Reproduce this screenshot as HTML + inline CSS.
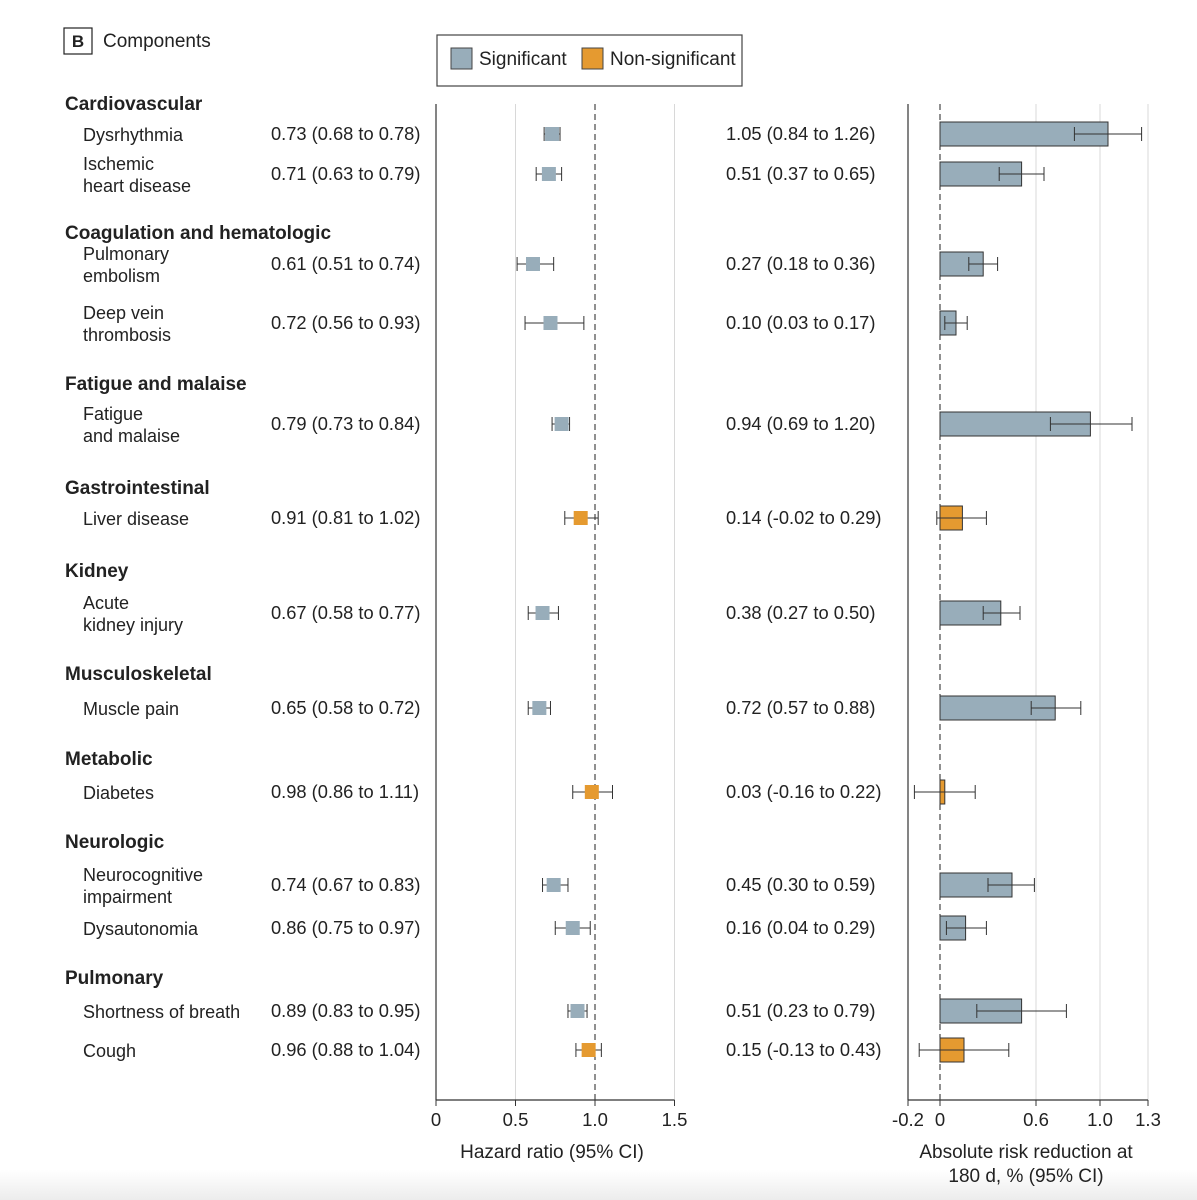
<!DOCTYPE html>
<html><head><meta charset="utf-8"><style>
html,body{margin:0;padding:0;background:#fff;}
svg{display:block;font-family:"Liberation Sans Narrow","Liberation Sans",sans-serif;}
</style></head><body>
<svg id="c" width="1197" height="1200">
<defs><linearGradient id="g" x1="0" y1="0" x2="0" y2="1"><stop offset="0" stop-color="#fff"/><stop offset="1" stop-color="#ececec"/></linearGradient></defs>
<rect x="0" y="1170" width="1197" height="30" fill="url(#g)"/>
<g>
<rect x="64" y="28" width="28" height="26" fill="#fff" stroke="#222" stroke-width="1.2"/>
<text x="78" y="47" font-size="17" font-weight="bold" text-anchor="middle" fill="#222">B</text>
<text x="103" y="47" font-size="19" fill="#222">Components</text>
</g>
<g>
<rect x="437" y="35" width="305" height="51" fill="#fff" stroke="#444" stroke-width="1.2"/>
<rect x="451" y="48" width="21" height="21" fill="#98adba" stroke="#444"/>
<text x="479" y="65" font-size="19" fill="#222">Significant</text>
<rect x="582" y="48" width="21" height="21" fill="#e59a30" stroke="#444"/>
<text x="610" y="65" font-size="19" fill="#222">Non-significant</text>
</g>
<g id="plot"></g>
</svg>
<script>
const headers=["Cardiovascular","Coagulation and hematologic","Fatigue and malaise","Gastrointestinal","Kidney","Musculoskeletal","Metabolic","Neurologic","Pulmonary"];
const labels=[["Dysrhythmia"],["Ischemic","heart disease"],["Pulmonary","embolism"],["Deep vein","thrombosis"],["Fatigue","and malaise"],["Liver disease"],["Acute","kidney injury"],["Muscle pain"],["Diabetes"],["Neurocognitive","impairment"],["Dysautonomia"],["Shortness of breath"],["Cough"]];
const hr=[0.73,0.71,0.61,0.72,0.79,0.91,0.67,0.65,0.98,0.74,0.86,0.89,0.96];
const hrLo=[0.68,0.63,0.51,0.56,0.73,0.81,0.58,0.58,0.86,0.67,0.75,0.83,0.88];
const hrHi=[0.78,0.79,0.74,0.93,0.84,1.02,0.77,0.72,1.11,0.83,0.97,0.95,1.04];
const arr=[1.05,0.51,0.27,0.10,0.94,0.14,0.38,0.72,0.03,0.45,0.16,0.51,0.15];
const arrLo=[0.84,0.37,0.18,0.03,0.69,-0.02,0.27,0.57,-0.16,0.30,0.04,0.23,-0.13];
const arrHi=[1.26,0.65,0.36,0.17,1.20,0.29,0.50,0.88,0.22,0.59,0.29,0.79,0.43];
const significant=[1,1,1,1,1,0,1,1,0,1,1,1,0];
const hrTicks=[0,0.5,1.0,1.5];
const hrTickLabels=["0","0.5","1.0","1.5"];
const arrTicks=[-0.2,0,0.6,1.0,1.3];
const arrTickLabels=["-0.2","0","0.6","1.0","1.3"];

const rowY=[134,174,264,323,424,518,613,708,792,885,928,1011,1050];
const headerY=[103,232,383,487,570,673,758,841,977];
const xHR=v=>436+v*159;
const xAR=v=>940+v*160;
const TOP=104,BOT=1100;
const NS="http://www.w3.org/2000/svg";
const P=document.getElementById('plot');
function mk(t,a,parent){const e=document.createElementNS(NS,t);for(const k in a)e.setAttribute(k,a[k]);(parent||P).appendChild(e);return e;}
function fmt(v){return v.toFixed(2);}
const SIG="#98adba",NSIG="#e59a30";

hrTicks.forEach((t,i)=>{
 const x=xHR(t);
 let l;
 if(t===0) l=mk('line',{x1:x,x2:x,y1:TOP,y2:BOT,stroke:'#333','stroke-width':1.2});
 else if(t===1) l=mk('line',{x1:x,x2:x,y1:TOP,y2:BOT,stroke:'#222','stroke-dasharray':'6,4','stroke-width':1});
 else l=mk('line',{x1:x,x2:x,y1:TOP,y2:BOT,stroke:'#d8d8d8','stroke-width':1});
 
 
 const tk=mk('line',{x1:x,x2:x,y1:BOT,y2:BOT+6,stroke:'#333'});
 
 
 const tx=mk('text',{x:x,y:BOT+26,'font-size':18.5,'text-anchor':'middle',fill:'#222'});
 tx.textContent=hrTickLabels[i];
 
 
});
const hax=mk('line',{x1:xHR(0),x2:xHR(1.5),y1:BOT,y2:BOT,stroke:'#333','stroke-width':1.2});


arrTicks.forEach((t,i)=>{
 const x=xAR(t);
 let l;
 if(t===-0.2) l=mk('line',{x1:x,x2:x,y1:TOP,y2:BOT,stroke:'#333','stroke-width':1.2});
 else if(t===0) l=mk('line',{x1:x,x2:x,y1:TOP,y2:BOT,stroke:'#222','stroke-dasharray':'6,4','stroke-width':1});
 else l=mk('line',{x1:x,x2:x,y1:TOP,y2:BOT,stroke:'#d8d8d8','stroke-width':1});
 
 
 const tk=mk('line',{x1:x,x2:x,y1:BOT,y2:BOT+6,stroke:'#333'});
 
 
 const tx=mk('text',{x:x,y:BOT+26,'font-size':18.5,'text-anchor':'middle',fill:'#222'});
 tx.textContent=arrTickLabels[i];
 
 
});
const aax=mk('line',{x1:xAR(-0.2),x2:xAR(1.3),y1:BOT,y2:BOT,stroke:'#333','stroke-width':1.2});


const t1=mk('text',{x:552,y:1158,'font-size':19,'text-anchor':'middle',fill:'#222'});
t1.textContent='Hazard ratio (95% CI)';


const t2=mk('text',{x:1026,y:1158,'font-size':19,'text-anchor':'middle',fill:'#222'});
t2.textContent='Absolute risk reduction at';


const t3=mk('text',{x:1026,y:1182,'font-size':19,'text-anchor':'middle',fill:'#222'});
t3.textContent='180 d, % (95% CI)';



headers.forEach((h,i)=>{
 const t=mk('text',{x:65,y:headerY[i]+7,'font-size':19,'font-weight':'bold',fill:'#222'});
 t.textContent=h;
 
 
});

labels.forEach((lab,i)=>{
 const y=rowY[i];
 const lt=mk('text',{x:83,'font-size':18,fill:'#222'});
 
 
 if(lab.length===1){lt.setAttribute('y',y+7);lt.textContent=lab[0];}
 else{lab.forEach((s,j)=>{const ts=mk('tspan',{x:83,y:y-4+j*22},lt);ts.textContent=s;});}
 const ht=mk('text',{x:271,y:y+6,'font-size':18.3,fill:'#222'});
 ht.textContent=fmt(hr[i])+' ('+fmt(hrLo[i])+' to '+fmt(hrHi[i])+')';
 
 
 const at=mk('text',{x:726,y:y+6,'font-size':18.3,fill:'#222'});
 at.textContent=fmt(arr[i])+' ('+fmt(arrLo[i])+' to '+fmt(arrHi[i])+')';
 
 
 const col=significant[i]?SIG:NSIG;
 const g=mk('g',{});
 
 
 mk('line',{x1:xHR(hrLo[i]),x2:xHR(hrHi[i]),y1:y,y2:y,stroke:'#333'},g);
 mk('line',{x1:xHR(hrLo[i]),x2:xHR(hrLo[i]),y1:y-7,y2:y+7,stroke:'#333'},g);
 mk('line',{x1:xHR(hrHi[i]),x2:xHR(hrHi[i]),y1:y-7,y2:y+7,stroke:'#333'},g);
 mk('rect',{x:xHR(hr[i])-7,y:y-7,width:14,height:14,fill:col},g);
 const b=mk('g',{});
 
 
 mk('rect',{x:xAR(0),y:y-12,width:Math.max(0,xAR(arr[i])-xAR(0)),height:24,fill:col,stroke:'#333','stroke-width':1},b);
 mk('line',{x1:xAR(arrLo[i]),x2:xAR(arrHi[i]),y1:y,y2:y,stroke:'#333'},b);
 mk('line',{x1:xAR(arrLo[i]),x2:xAR(arrLo[i]),y1:y-7,y2:y+7,stroke:'#333'},b);
 mk('line',{x1:xAR(arrHi[i]),x2:xAR(arrHi[i]),y1:y-7,y2:y+7,stroke:'#333'},b);
});
</script>
</body></html>
